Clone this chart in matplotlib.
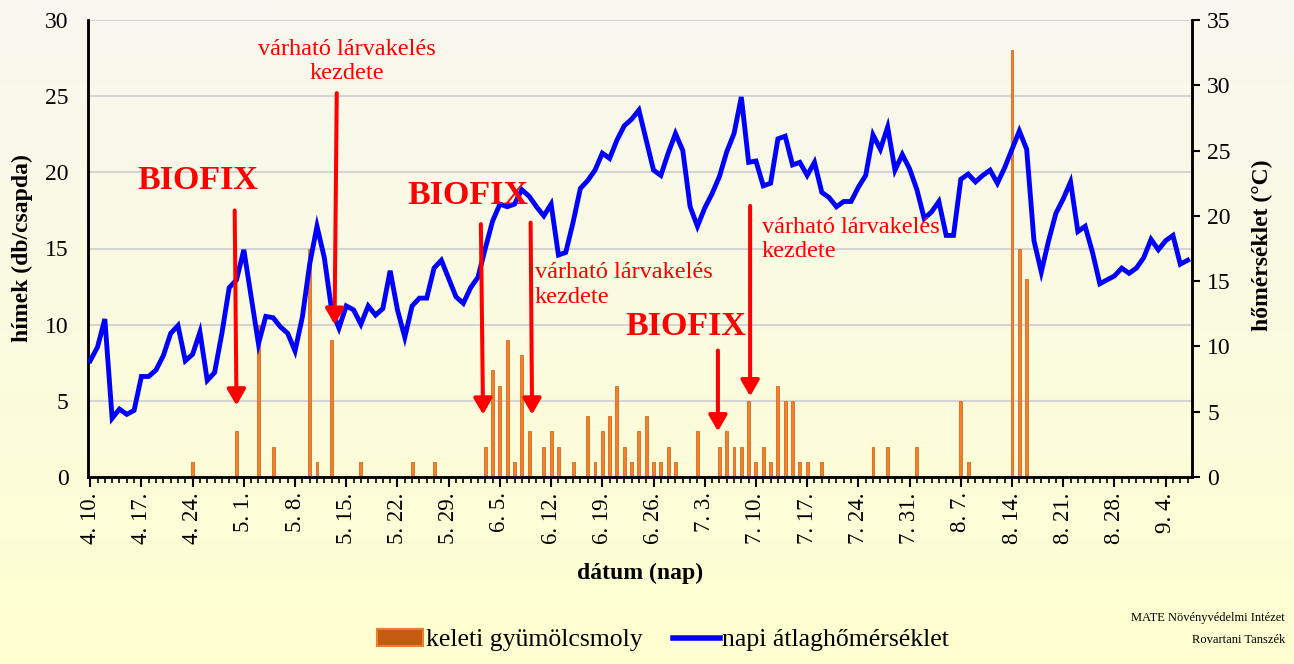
import numpy as np
import matplotlib
matplotlib.use("Agg")
import matplotlib.pyplot as plt
from matplotlib.patches import Patch
from matplotlib.lines import Line2D

# napi átlaghőmérséklet, 4.10.-től 9.7.-ig (151 nap)
temp = [8.9, 9.95, 12.1, 4.5, 5.2, 4.8, 5.1, 7.7, 7.7, 8.2,
        9.3, 11.0, 11.6, 8.9, 9.4, 11.1, 7.4, 8.0, 11.0, 14.5,
        15.1, 17.4, 13.8, 10.2, 12.3, 12.2, 11.5, 11.0, 9.65, 12.25,
        16.3, 19.2, 16.8, 12.8, 11.4, 13.1, 12.8, 11.7, 13.1, 12.4,
        12.9, 15.8, 12.8, 10.7, 13.1, 13.7, 13.7, 16.0, 16.6, 15.2,
        13.8, 13.3, 14.5, 15.3, 17.5, 19.6, 20.9, 20.7, 20.9, 22.0,
        21.5, 20.7, 20.0, 20.9, 17.0, 17.2, 19.5, 22.1, 22.7, 23.5,
        24.8, 24.4, 25.8, 26.9, 27.4, 28.1, 25.8, 23.5, 23.1, 24.8,
        26.3, 25.0, 20.7, 19.2, 20.6, 21.7, 23.0, 24.9, 26.3, 29.1,
        24.1, 24.2, 22.3, 22.5, 25.9, 26.1, 23.9, 24.1, 23.1, 24.1,
        21.8, 21.4, 20.7, 21.1, 21.1, 22.2, 23.1, 26.2, 25.1, 26.8,
        23.5, 24.7, 23.6, 22.0, 19.8, 20.3, 21.1, 18.5, 18.5, 22.8,
        23.2, 22.6, 23.1, 23.5, 22.5, 23.7, 25.1, 26.5, 25.1, 18.1,
        15.7, 18.1, 20.2, 21.3, 22.6, 18.8, 19.2, 17.2, 14.8, 15.1,
        15.4, 16.0, 15.6, 16.0, 16.8, 18.2, 17.4, 18.1, 18.5, 16.3,
        16.6]

# fogások (nap sorszáma, db/csapda)
catch_days = [14, 20, 23, 25, 30, 31, 33, 37, 44, 47,
              54, 55, 56, 57, 58, 59, 60, 62, 63, 64,
              66, 68, 69, 70, 71, 72, 73, 74, 75, 76,
              77, 78, 79, 80, 83, 86, 87, 88, 89, 90,
              91, 92, 93, 94, 95, 96, 97, 98, 100, 107,
              109, 113, 119, 120, 126, 127, 128]
catch = [1, 3, 10, 2, 15, 1, 9, 1, 1, 1,
         2, 7, 6, 9, 1, 8, 3, 2, 3, 2,
         1, 4, 1, 3, 4, 6, 2, 1, 3, 4,
         1, 1, 2, 1, 3, 2, 3, 2, 2, 5,
         1, 2, 1, 6, 5, 5, 1, 1, 1, 2,
         2, 2, 5, 1, 28, 15, 13]

tick_labels = ["4. 10.", "4. 17.", "4. 24.", "5. 1.", "5. 8.", "5. 15.",
               "5. 22.", "5. 29.", "6. 5.", "6. 12.", "6. 19.", "6. 26.",
               "7. 3.", "7. 10.", "7. 17.", "7. 24.", "7. 31.", "8. 7.",
               "8. 14.", "8. 21.", "8. 28.", "9. 4."]

serif = "Liberation Serif"
plt.rcParams['font.family'] = [serif, 'DejaVu Serif']

W, H = 1294, 664
fig = plt.figure(figsize=(W / 100, H / 100), dpi=100)

# háttér színátmenet
bg = fig.add_axes([0, 0, 1, 1], zorder=-10)
top = np.array([247, 247, 240]) / 255
bot = np.array([255, 255, 208]) / 255
t = np.linspace(0, 1, 256)[:, None]
grad = (top[None, :] * (1 - t) + bot[None, :] * t)[:, None, :]
bg.imshow(grad, aspect='auto', extent=[0, 1, 0, 1])
bg.axis('off')

ax = fig.add_axes([88 / W, 1 - 477 / H, (1192 - 88) / W, (477 - 20) / H])
ax.set_facecolor('none')
ax2 = ax.twinx()

days = np.arange(len(temp))
ax.bar(catch_days, catch, width=0.4, color='#F08030', edgecolor='#DA6A1E',
       linewidth=0.6, zorder=2)
ax2.plot(days, temp, color='#0000FF', lw=3.5, solid_joinstyle='miter', zorder=3)

ax.set_xlim(-0.3, 150.6)
ax.set_ylim(0, 30)
ax2.set_ylim(0, 35)
ax.set_yticks(range(0, 31, 5))
ax2.set_yticks(range(0, 36, 5))
ax.yaxis.grid(True, color='#D4D4D4', lw=1.5, zorder=0)
ax.set_axisbelow(True)

ax.set_xticks(np.arange(0, 148, 7))
ax.set_xticklabels(tick_labels, rotation=90, fontsize=16.5)
ax.set_xticks(np.arange(0, 151, 1), minor=True)
ax.tick_params(axis='x', which='major', direction='out', length=7, width=1.5, pad=4)
ax.tick_params(axis='x', which='minor', direction='out', length=4, width=1.2)
ax.tick_params(axis='y', length=0, labelsize=17, pad=14)
ax2.tick_params(axis='y', direction='out', length=6, width=1.5, labelsize=17, pad=5)

for a in (ax, ax2):
    a.spines['top'].set_visible(False)
    for s in ('left', 'right', 'bottom'):
        a.spines[s].set_linewidth(1.8)
        a.spines[s].set_color('black')

fig.text(22 / W, 1 - 248 / H, "hímek (db/csapda)", rotation=90, ha='center',
         va='center', fontsize=17, fontweight='bold')
fig.text(1262 / W, 1 - 245 / H, "hőmérséklet (°C)", rotation=90, ha='center',
         va='center', fontsize=17, fontweight='bold')
fig.text(640 / W, 1 - 573 / H, "dátum (nap)", ha='center', va='center',
         fontsize=17, fontweight='bold')

# jelölések
red = '#FF0000'
arrows = [((19.75, 17.5), (20.0, 4.7)),
          ((33.7, 25.2), (33.4, 10.0)),
          ((53.4, 16.6), (53.7, 4.1)),
          ((60.2, 16.7), (60.4, 4.1)),
          ((85.8, 8.3), (85.8, 3.0)),
          ((90.2, 17.8), (90.2, 5.3))]
for start, tip in arrows:
    ax2.annotate("", xy=tip, xycoords=ax.transData, xytext=start,
                 textcoords=ax.transData,
                 arrowprops=dict(arrowstyle='-|>,head_length=0.95,head_width=0.55',
                                 mutation_scale=10, lw=2.9, color=red,
                                 shrinkA=0, shrinkB=0),
                 zorder=5)

for x, y in [(14.7, 19.45), (51.6, 18.5), (81.4, 9.9)]:
    ax2.text(x, y, "BIOFIX", transform=ax.transData, ha='center', va='center',
             fontsize=24.5, fontweight='bold', color=red, zorder=6)

lv = "várható lárvakelés\nkezdete"
ax2.text(35.1, 27.3, lv, transform=ax.transData, ha='center', va='center',
         fontsize=17.5, color=red, zorder=6)
ax2.text(60.8, 12.6, lv, transform=ax.transData, ha='left', va='center',
         fontsize=17.5, color=red, zorder=6)
ax2.text(91.8, 15.6, lv, transform=ax.transData, ha='left', va='center',
         fontsize=17.5, color=red, zorder=6)

handles = [Patch(facecolor='#C55A11', edgecolor='#ED7D31', lw=1.5),
           Line2D([], [], color='#0000FF', lw=4)]
fig.legend(handles, ["keleti gyümölcsmoly", "napi átlaghőmérséklet"],
           loc='center', bbox_to_anchor=(663 / W, 1 - 640 / H), ncol=2,
           frameon=False, fontsize=18.5, handlelength=1.8, handletextpad=0.1,
           columnspacing=1.2)

fig.text(1285 / W, 1 - 618 / H, "MATE Növényvédelmi Intézet", ha='right',
         va='center', fontsize=9)
fig.text(1285 / W, 1 - 640 / H, "Rovartani Tanszék", ha='right',
         va='center', fontsize=9)

fig.savefig("out.png", dpi=100)
